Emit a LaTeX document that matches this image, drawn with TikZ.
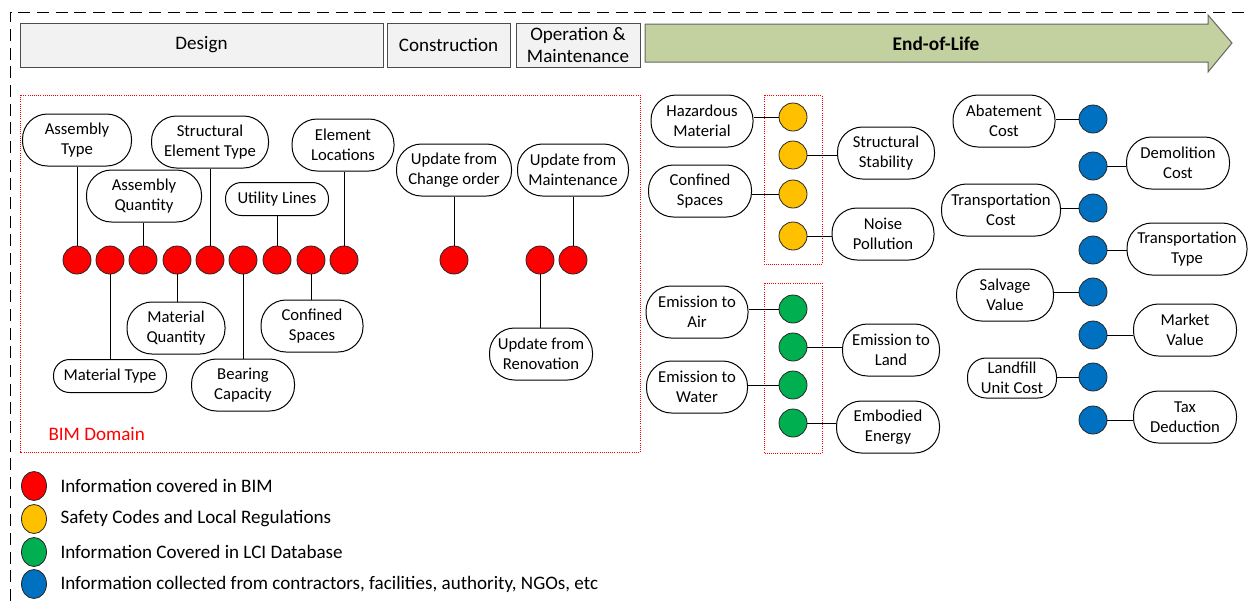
\documentclass[tikz,border=0pt]{standalone}
\usepackage{fontspec}
\setmainfont{Carlito}
\usetikzlibrary{shapes.geometric}
\newdimen\pxu \pxu=0.75pt
\definecolor{bimred}{HTML}{FF0000}
\definecolor{safeyel}{HTML}{FFC000}
\definecolor{lcigreen}{HTML}{00B050}
\definecolor{colblue}{HTML}{0070C0}
\definecolor{eolgreen}{HTML}{C3D09F}
\definecolor{phasegray}{HTML}{F2F2F2}
\begin{document}
\begin{tikzpicture}[x=0.75pt,y=-0.75pt,
  font=\fontsize{12.5}{15}\selectfont, line width=0.75pt,
  bigfont/.style={font=\fontsize{14.3}{16.5}\selectfont},
  tag/.style={draw=black, fill=white, rectangle, rounded corners=18.75pt,
    minimum width=102\pxu, minimum height=52\pxu, inner sep=0pt, align=center},
  tagone/.style={tag, minimum height=33\pxu, rounded corners=12pt},
  dot/.style={circle, draw=black!85, minimum size=28\pxu, inner sep=0pt, line width=0.6pt},
  legdot/.style={ellipse, draw=black!85, minimum width=25\pxu, minimum height=29\pxu, inner sep=0pt, line width=0.6pt},
  phase/.style={bigfont, draw=black!70, fill=phasegray, rectangle, minimum height=44\pxu, inner sep=0pt, align=center},
  grpbox/.style={draw=bimred, densely dotted, line width=0.6pt},
  conn/.style={draw=black, line width=0.75pt},
  legtext/.style={bigfont, anchor=west, inner sep=0pt}
]
\useasboundingbox (0,0) rectangle (1250,601);

% outer dashed frame
\draw[dash pattern=on 9pt off 5pt, line width=0.75pt] (10,601) -- (10,12) -- (1250,12);

% phases
\node[phase, minimum width=363\pxu] (design) at (201.5,45) {Design};
\node[phase, minimum width=123\pxu] (constr) at (448.5,45) {Construction};
\node[phase, minimum width=124\pxu] (om) at (578,45) {Operation \&\\Maintenance};
\draw[fill=eolgreen, draw=black!60] (645,24) -- (1208,24) -- (1208,15) -- (1232,43)
  -- (1208,72) -- (1208,62) -- (645,62) -- cycle;
\node[font=\fontsize{14.5}{16}\selectfont\bfseries] (eol) at (936,44) {End-of-Life};

% group boxes
\draw[grpbox] (20,95) rectangle (640,452);
\draw[grpbox] (764,95) rectangle (822,264);
\draw[grpbox] (764,283) rectangle (822,453);
\node[bigfont, text=bimred, anchor=west, inner sep=0pt] (bimlabel) at (48,434) {BIM Domain};

% red circles
\foreach \i/\x in {1/77,2/110,3/143,4/177,5/210,6/243,7/277,8/311,9/344,10/454,11/540,12/573}
  \node[dot, fill=bimred] (r\i) at (\x,260) {};

% BIM nodes
\node[tag, minimum width=109\pxu] (asmtype) at (77,140) {Assembly\\Type};
\node[tag, minimum width=115\pxu] (asmqty) at (144,196) {Assembly\\Quantity};
\node[tag, minimum width=117\pxu] (strtype) at (210,142) {Structural\\Element Type};
\node[tagone, minimum width=103\pxu] (util) at (277,199) {Utility Lines};
\node[tag, minimum width=102\pxu] (elemloc) at (343,145) {Element\\Locations};
\node[tagone, minimum width=113\pxu] (mattype) at (110,376) {Material Type};
\node[tag, minimum width=98\pxu] (matqty) at (176,328) {Material\\Quantity};
\node[tag, minimum width=103\pxu] (bearing) at (243,385) {Bearing\\Capacity};
\node[tag, minimum width=102\pxu] (confbim) at (312,326) {Confined\\Spaces};
\node[tag, minimum width=115\pxu] (updchg) at (454,170) {Update from\\Change order};
\node[tag, minimum width=111\pxu] (updmnt) at (573,170) {Update from\\Maintenance};
\node[tag, minimum width=103\pxu] (updren) at (541,354) {Update from\\Renovation};

\draw[conn] (r1.north) -- (r1.north |- asmtype.south);
\draw[conn] (r2.south) -- (r2.south |- mattype.north);
\draw[conn] (r3.north) -- (r3.north |- asmqty.south);
\draw[conn] (r4.south) -- (r4.south |- matqty.north);
\draw[conn] (r5.north) -- (r5.north |- strtype.south);
\draw[conn] (r6.south) -- (r6.south |- bearing.north);
\draw[conn] (r7.north) -- (r7.north |- util.south);
\draw[conn] (r8.south) -- (r8.south |- confbim.north);
\draw[conn] (r9.north) -- (r9.north |- elemloc.south);
\draw[conn] (r10.north) -- (r10.north |- updchg.south);
\draw[conn] (r11.south) -- (r11.south |- updren.north);
\draw[conn] (r12.north) -- (r12.north |- updmnt.south);

% yellow group
\foreach \i/\y in {1/117,2/155,3/194,4/236}
  \node[dot, fill=safeyel] (y\i) at (793,\y) {};
\node[tag, minimum width=102\pxu] (haz) at (702,121) {Hazardous\\Material};
\node[tag, minimum width=97\pxu] (stab) at (886,153) {Structural\\Stability};
\node[tag, minimum width=103\pxu] (confsafe) at (700,191) {Confined\\Spaces};
\node[tag, minimum width=102\pxu] (noise) at (883,234) {Noise\\Pollution};
\draw[conn] (y1.west) -- (y1.west -| haz.east);
\draw[conn] (y2.east) -- (y2.east -| stab.west);
\draw[conn] (y3.west) -- (y3.west -| confsafe.east);
\draw[conn] (y4.east) -- (y4.east -| noise.west);

% green group
\foreach \i/\y in {1/309,2/347,3/385,4/423}
  \node[dot, fill=lcigreen] (g\i) at (793,\y) {};
\node[tag, minimum width=102\pxu] (air) at (697,312) {Emission to\\Air};
\node[tag, minimum width=97\pxu] (land) at (891,350) {Emission to\\Land};
\node[tag, minimum width=101\pxu] (water) at (697,387) {Emission to\\Water};
\node[tag, minimum width=103\pxu] (embod) at (888,427) {Embodied\\Energy};
\draw[conn] (g1.west) -- (g1.west -| air.east);
\draw[conn] (g2.east) -- (g2.east -| land.west);
\draw[conn] (g3.west) -- (g3.west -| water.east);
\draw[conn] (g4.east) -- (g4.east -| embod.west);

% blue group
\foreach \i/\y in {1/119,2/166,3/208,4/250,5/292,6/335,7/377,8/420}
  \node[dot, fill=colblue] (b\i) at (1093,\y) {};
\node[tag, minimum width=102\pxu] (abate) at (1004,121) {Abatement\\Cost};
\node[tag, minimum width=103\pxu] (demol) at (1178,163) {Demolition\\Cost};
\node[tag, minimum width=119\pxu] (trcost) at (1001,210) {Transportation\\Cost};
\node[tag, minimum width=120\pxu] (trtype) at (1187,249) {Transportation\\Type};
\node[tag, minimum width=97\pxu] (salvage) at (1005,295) {Salvage\\Value};
\node[tag, minimum width=103\pxu] (market) at (1185,330) {Market\\Value};
\node[tag, minimum width=89\pxu, minimum height=40\pxu, rounded corners=14pt] (landfill) at (1012,378) {Landfill\\Unit Cost};
\node[tag, minimum width=103\pxu] (tax) at (1185,417) {Tax\\Deduction};
\draw[conn] (b1.west) -- (b1.west -| abate.east);
\draw[conn] (b2.east) -- (b2.east -| demol.west);
\draw[conn] (b3.west) -- (b3.west -| trcost.east);
\draw[conn] (b4.east) -- (b4.east -| trtype.west);
\draw[conn] (b5.west) -- (b5.west -| salvage.east);
\draw[conn] (b6.east) -- (b6.east -| market.west);
\draw[conn] (b7.west) -- (b7.west -| landfill.east);
\draw[conn] (b8.east) -- (b8.east -| tax.west);

% legend
\node[legdot, fill=bimred] (lr) at (34,486) {};
\node[legdot, fill=safeyel] (ly) at (34,519) {};
\node[legdot, fill=lcigreen] (lg) at (34,552) {};
\node[legdot, fill=colblue] (lb) at (34,584) {};
\node[legtext] (tr) at (60,486) {Information covered in BIM};
\node[legtext] (ty) at (60,519) {Safety Codes and Local Regulations};
\node[legtext] (tg) at (60,552) {Information Covered in LCI Database};
\node[legtext] (tb) at (60,584) {Information collected from contractors, facilities, authority, NGOs, etc};
\end{tikzpicture}
\end{document}
